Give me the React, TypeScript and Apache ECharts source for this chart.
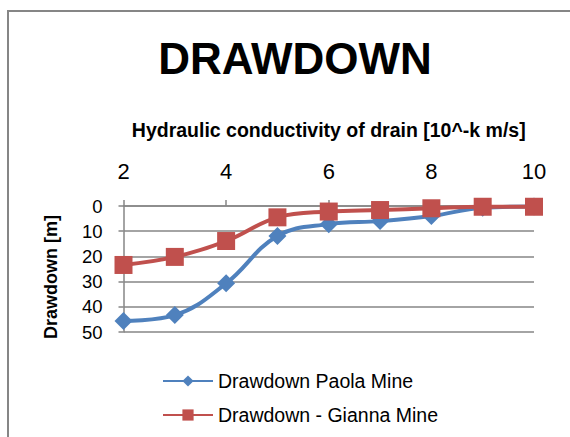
import React, { useEffect, useRef } from "react";
import * as echarts from "echarts";

const categories = ["2", "3", "4", "5", "6", "7", "8", "9", "10"];
const paolaDrawdown = [45.6, 43.3, 30.7, 11.9, 7.2, 6.0, 4.0, 0.7, 0.2];
const giannaDrawdown = [23.4, 20.2, 13.9, 4.5, 2.2, 1.6, 0.9, 0.3, 0.3];
const seriesNames = ["Drawdown Paola Mine", "Drawdown - Gianna Mine"];
const titleText = "DRAWDOWN";
const xAxisName = "Hydraulic conductivity of drain [10^-k m/s]";
const yAxisName = "Drawdown [m]";

const FONT = "'Liberation Sans', Arial, sans-serif";
const GRID_COLOR = "#868686";

export default function App() {
  const ref = useRef<HTMLDivElement>(null);
  useEffect(() => {
    if (!ref.current) return;
    const chart = echarts.init(ref.current, null, { renderer: "svg" });
    chart.setOption({
      animation: false,
      backgroundColor: "#ffffff",
      title: {
        text: titleText,
        left: 290,
        top: 31,
        textAlign: "center",
        textStyle: { fontSize: 44, fontWeight: "bold", fontFamily: FONT, color: "#000" },
      },
      graphic: [
        {
          type: "rect",
          shape: { x: 8, y: 11, width: 620, height: 500 },
          style: { fill: "none", stroke: GRID_COLOR, lineWidth: 2 },
          silent: true,
          z: -1,
        },
        {
          type: "text",
          x: 51,
          y: 277,
          rotation: Math.PI / 2,
          style: {
            text: yAxisName,
            align: "center",
            verticalAlign: "middle",
            font: `bold 18px ${FONT}`,
            fill: "#000",
          },
        },
      ],
      legend: {
        orient: "vertical",
        left: 157,
        top: 366,
        itemWidth: 50,
        itemHeight: 14,
        itemGap: 14,
        data: seriesNames,
        textStyle: { fontSize: 19.5, fontFamily: FONT, color: "#000" },
      },
      grid: { left: 123.5, right: 36, top: 206, bottom: 105, containLabel: false },
      xAxis: {
        type: "category",
        position: "top",
        boundaryGap: false,
        data: categories,
        name: xAxisName,
        nameLocation: "middle",
        nameGap: 66,
        nameTextStyle: { fontSize: 19.5, fontWeight: "bold", fontFamily: FONT, color: "#000" },
        axisLine: { show: true, lineStyle: { color: GRID_COLOR, width: 1.5 } },
        axisTick: { show: true, interval: 1, length: 6, inside: false, lineStyle: { color: GRID_COLOR, width: 1.5 } },
        axisLabel: { interval: 1, fontSize: 22, fontFamily: FONT, color: "#000", margin: 24 },
        splitLine: { show: false },
      },
      yAxis: {
        type: "value",
        inverse: true,
        min: 0,
        max: 50,
        interval: 10,
        axisLine: { show: true, lineStyle: { color: GRID_COLOR, width: 1.5 } },
        axisTick: { show: true, length: 5, lineStyle: { color: GRID_COLOR, width: 1.5 } },
        axisLabel: { fontSize: 18.5, fontFamily: FONT, color: "#000", margin: 21 },
        splitLine: { show: true, lineStyle: { color: GRID_COLOR, width: 1.5 } },
      },
      series: [
        {
          name: seriesNames[0],
          type: "line",
          data: paolaDrawdown,
          smooth: 0.4,
          symbol: "diamond",
          symbolSize: 18,
          itemStyle: { color: "#4F81BD" },
          lineStyle: { color: "#4F81BD", width: 4 },
          z: 2,
        },
        {
          name: seriesNames[1],
          type: "line",
          data: giannaDrawdown,
          smooth: 0.4,
          symbol: "rect",
          symbolSize: 18,
          itemStyle: { color: "#C0504D" },
          lineStyle: { color: "#C0504D", width: 4 },
          z: 3,
        },
      ],
    });
    return () => chart.dispose();
  }, []);
  return (
    <div
      ref={ref}
      style={{ position: "fixed", left: 0, top: 0, width: 570, height: 437, background: "#fff" }}
    />
  );
}
